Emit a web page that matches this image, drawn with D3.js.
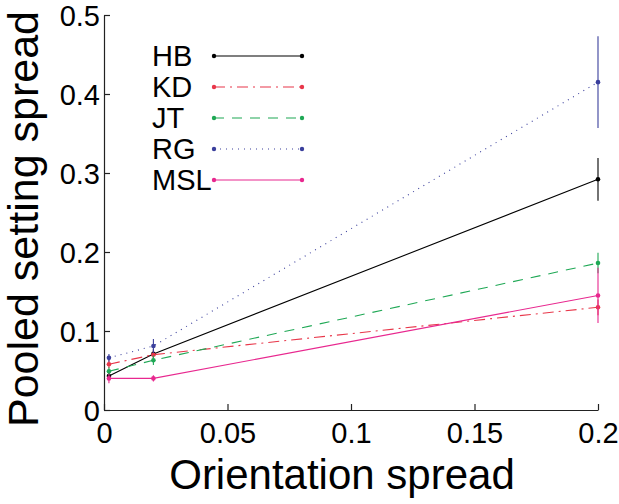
<!DOCTYPE html>
<html><head><meta charset="utf-8">
<script src="https://cdn.jsdelivr.net/npm/d3@7"></script>
<style>body{margin:0;background:#fff}svg{display:block}</style>
</head><body>
<script>
const xValues = [0.002, 0.02, 0.2];
const seriesNames = ["HB", "KD", "JT", "RG", "MSL"];
const hbValues  = [0.043, 0.071, 0.292];
const hbErr     = [0.005, 0.006, 0.027];
const kdValues  = [0.058, 0.070, 0.130];
const kdErr     = [0.005, 0.005, 0.010];
const jtValues  = [0.049, 0.063, 0.186];
const jtErr     = [0.005, 0.006, 0.013];
const rgValues  = [0.066, 0.081, 0.415];
const rgErr     = [0.005, 0.009, 0.058];
const mslValues = [0.040, 0.040, 0.145];
const mslErr    = [0.006, 0.004, 0.035];
const xTicks = [0, 0.05, 0.1, 0.15, 0.2];
const yTicks = [0, 0.1, 0.2, 0.3, 0.4, 0.5];

const colors = ["#000000", "#e8374a", "#1fa855", "#3a3f9c", "#e8288f"];
const dashes = [null, "11,5,2,5", "10,8", "1,5", null];
const vals = [hbValues, kdValues, jtValues, rgValues, mslValues];
const errs = [hbErr, kdErr, jtErr, rgErr, mslErr];

const W = 619, H = 504;
const m = {left:104, right:21, top:15, bottom:94};
const svg = d3.select("body").append("svg").attr("width", W).attr("height", H)
  .style("font-family", "'Liberation Sans', Arial, Helvetica, sans-serif");

const x = d3.scaleLinear().domain([0, 0.2]).range([m.left, W - m.right]);
const y = d3.scaleLinear().domain([0, 0.5]).range([H - m.bottom, m.top]);

// axes
const xAxis = svg.append("g").attr("transform", `translate(0,${H - m.bottom})`)
  .call(d3.axisBottom(x).tickValues(xTicks).tickSizeInner(-6).tickSizeOuter(0).tickPadding(12)
    .tickFormat(d => d === 0 ? "0" : String(d)));
const yAxis = svg.append("g").attr("transform", `translate(${m.left},0)`)
  .call(d3.axisLeft(y).tickValues(yTicks).tickSizeInner(-6).tickSizeOuter(0).tickPadding(4)
    .tickFormat(d => d === 0 ? "0" : String(d)));
[xAxis, yAxis].forEach(a => {
  a.selectAll("path").attr("stroke", "#222").attr("stroke-width", 1.2);
  a.selectAll("line").attr("stroke", "#222").attr("stroke-width", 1.2);
  a.selectAll("text").attr("fill", "#000").style("font-size", "29px");
});
yAxis.selectAll("text").attr("dy", "0.36em");

svg.append("text").attr("x", 342).attr("y", 489).attr("text-anchor", "middle")
  .style("font-size", "42px").text("Orientation spread");
svg.append("text").attr("transform", `translate(38,219) rotate(-90)`).attr("text-anchor", "middle")
  .style("font-size", "43px").text("Pooled setting spread");

// series
const line = d3.line().x(d => x(d[0])).y(d => y(d[1]));
seriesNames.forEach((name, i) => {
  const pts = xValues.map((xv, j) => [xv, vals[i][j], errs[i][j]]);
  const g = svg.append("g");
  g.append("path").datum(pts).attr("d", line).attr("fill", "none")
    .attr("stroke", colors[i]).attr("stroke-width", 1.1)
    .attr("stroke-dasharray", dashes[i]);
  g.selectAll("line.err").data(pts).join("line")
    .attr("x1", d => x(d[0])).attr("x2", d => x(d[0]))
    .attr("y1", d => y(d[1] - d[2])).attr("y2", d => y(d[1] + d[2]))
    .attr("stroke", colors[i]).attr("stroke-width", 1.1);
  g.selectAll("circle").data(pts).join("circle")
    .attr("cx", d => x(d[0])).attr("cy", d => y(d[1])).attr("r", 2.3)
    .attr("fill", colors[i]);
});

// legend
const lg = svg.append("g");
seriesNames.forEach((name, i) => {
  const ly = 56 + i * 31;
  lg.append("text").attr("x", 152).attr("y", ly).attr("dy", "0.35em")
    .style("font-size", "29px").text(name);
  lg.append("line").attr("x1", 214).attr("x2", 302).attr("y1", ly).attr("y2", ly)
    .attr("stroke", colors[i]).attr("stroke-width", 1.1).attr("stroke-dasharray", dashes[i]);
  [214, 302].forEach(cx => lg.append("circle").attr("cx", cx).attr("cy", ly).attr("r", 2.2).attr("fill", colors[i]));
});
</script>
</body></html>
